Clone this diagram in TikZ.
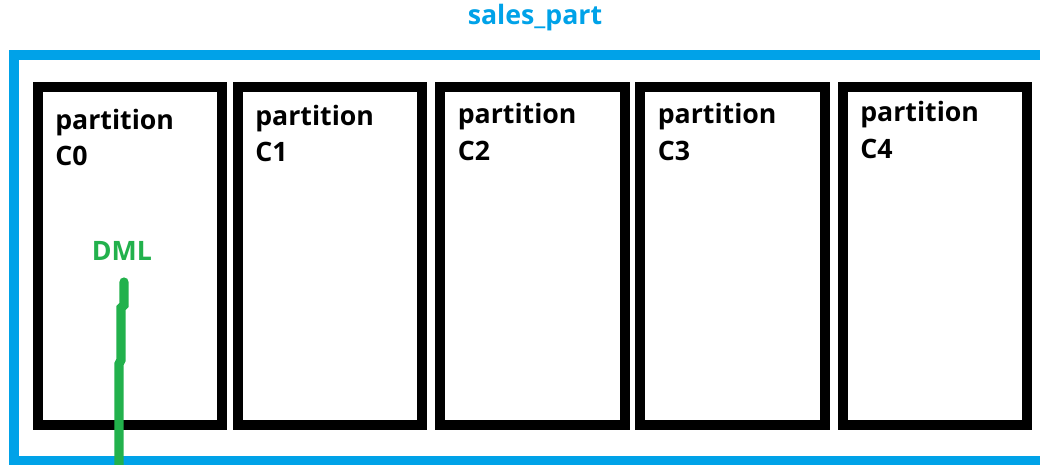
\documentclass[tikz,border=0pt]{standalone}
\usepackage{fontspec}
\setmainfont{Open Sans}
\usetikzlibrary{positioning}
\definecolor{tableblue}{HTML}{00A2E8}
\definecolor{dmlgreen}{HTML}{22B14C}
\tikzset{
  partbox/.style={draw=black, line width=2.5mm, minimum width=4.6cm, minimum height=8.45cm, inner sep=0pt},
  parttext/.style={anchor=base west, inner sep=0pt, font=\bfseries\fontsize{19}{23}\selectfont},
  dmltext/.style={text=dmlgreen, inner sep=0pt, font=\bfseries\fontsize{19}{23}\selectfont},
  dmlline/.style={draw=dmlgreen, line width=2.3mm, line cap=round},
}

\begin{document}
\begin{tikzpicture}[x=0.025cm, y=-0.025cm]
    \useasboundingbox (0,0) rectangle (1040,465);
    \clip (0,0) rectangle (1040,465);

    %%%%% table frame %%%%%
    \node[text=tableblue, font=\bfseries\fontsize{19}{23}\selectfont] (table) at (535,18) {sales\_part};
    \draw[tableblue, line width=2.5mm] (14,55) rectangle (1060,461);

    %%%%% partitions %%%%%
    \foreach \i/\x/\ya/\yb in {0/130/130/166, 1/330/126/162, 2/532.5/124/161, 3/732.5/124/161, 4/935/122/159}{
        \node[partbox] (p\i) at (\x,256) {};
        \node[parttext] (name\i) at (\x-75,\ya) {partition};
        \node[parttext] (key\i) at (\x-75,\yb) {C\i};
    }

    %%%%% DML %%%%%
    \node[dmltext] (dml) at (122,251) {DML};
    \coordinate (dmltop) at (124,282);
    \coordinate (dmlend) at (119,475);
    \draw[dmlline] (dmltop) -- (124,305) -- (121,308) -- (121,360) -- (119,364) -- (dmlend);

\end{tikzpicture}
\end{document}
